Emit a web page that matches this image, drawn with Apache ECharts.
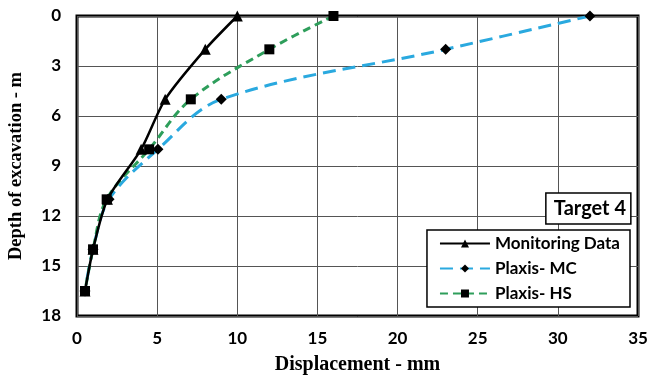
<!DOCTYPE html>
<html><head><meta charset="utf-8">
<script src="https://cdn.jsdelivr.net/npm/echarts@6/dist/echarts.min.js"></script>
<style>html,body{margin:0;padding:0;background:#fff}#c{width:647px;height:376px}</style>
</head><body><div id="c"></div>
<script>
const depths = [0, 2, 5, 8, 11, 14, 16.5];
const monitoring = [10, 8, 5.5, 4.0, 1.9, 1.0, 0.5];
const plaxisMC = [32, 23, 9, 5.05, 2.0, 1.0, 0.5];
const plaxisHS = [16, 12, 7.1, 4.5, 1.85, 1.0, 0.5];
const xTicks = [0, 5, 10, 15, 20, 25, 30, 35];
const yTicks = [0, 3, 6, 9, 12, 15, 18];

const pairs = arr => arr.map((x, i) => [x, depths[i]]);
const chart = echarts.init(document.getElementById('c'));
const tickFont = {fontFamily: 'Lato', fontWeight: 'bold', fontSize: 17, color: '#000'};
chart.setOption({
  animation: false,
  grid: {left: 77, top: 16, right: 9, bottom: 60, show: true, borderColor: '#000', borderWidth: 3,
         containLabel: false, outerBoundsMode: 'none'},
  title: {
    text: 'Target 4', right: 16, top: 193,
    borderColor: '#000', borderWidth: 1.5, padding: [6, 5, 5, 8],
    backgroundColor: '#fff',
    textStyle: {fontFamily: 'Lato', fontWeight: 'bold', fontSize: 20, color: '#000'}
  },
  legend: {
    orient: 'vertical', right: 17, top: 230,
    borderColor: '#000', borderWidth: 1.5, backgroundColor: '#fff',
    padding: [5, 10, 5, 12], itemGap: 8, itemWidth: 50, itemHeight: 10,
    textStyle: {fontFamily: 'Lato', fontWeight: 'bold', fontSize: 17, color: '#000'},
    data: ['Monitoring Data', 'Plaxis- MC', 'Plaxis- HS']
  },
  xAxis: {
    type: 'value', min: 0, max: 35, interval: 5,
    name: 'Displacement - mm', nameLocation: 'middle', nameGap: 39,
    nameTextStyle: {fontFamily: 'Liberation Serif', fontWeight: 'bold', fontSize: 20, color: '#000'},
    axisLine: {show: false}, axisTick: {show: false},
    axisLabel: Object.assign({margin: 14, formatter: v => xTicks.includes(v) ? String(v) : ''}, tickFont),
    splitLine: {show: true, lineStyle: {color: '#555', width: 1}}
  },
  yAxis: {
    type: 'value', min: 0, max: 18, interval: 3, inverse: true,
    name: 'Depth of excavation - m', nameLocation: 'middle', nameGap: 51, nameRotate: 90,
    nameTextStyle: {fontFamily: 'Liberation Serif', fontWeight: 'bold', fontSize: 18.5, color: '#000'},
    axisLine: {show: false}, axisTick: {show: false},
    axisLabel: Object.assign({margin: 16, formatter: v => yTicks.includes(v) ? String(v) : ''}, tickFont),
    splitLine: {show: true, lineStyle: {color: '#555', width: 1}}
  },
  series: [
    {
      name: 'Plaxis- MC', type: 'line', smooth: 0.35, data: pairs(plaxisMC),
      symbol: 'diamond', symbolSize: 11,
      itemStyle: {color: '#000'},
      lineStyle: {color: '#2aa9df', width: 3, type: [13, 7]}
    },
    {
      name: 'Plaxis- HS', type: 'line', smooth: 0.35, data: pairs(plaxisHS),
      symbol: 'rect', symbolSize: 10,
      itemStyle: {color: '#000'},
      lineStyle: {color: '#2e9e5b', width: 3, type: [8, 5]}
    },
    {
      name: 'Monitoring Data', type: 'line', smooth: 0.25, data: pairs(monitoring),
      symbol: 'triangle', symbolSize: 11,
      itemStyle: {color: '#000'},
      lineStyle: {color: '#000', width: 2.5}
    }
  ]
});
</script></body></html>
